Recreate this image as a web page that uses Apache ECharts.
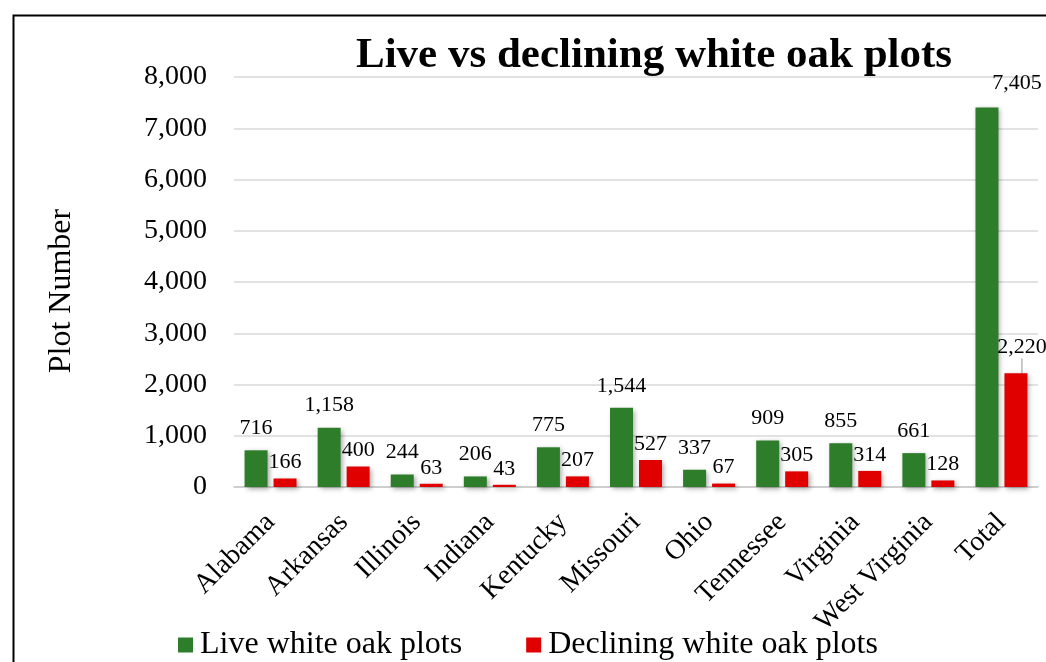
<!DOCTYPE html>
<html>
<head>
<meta charset="utf-8">
<script src="https://cdn.jsdelivr.net/npm/echarts@6/dist/echarts.min.js"></script>
<style>
  html, body { margin: 0; padding: 0; background: #fff; }
  #chart { width: 1046px; height: 662px; }
</style>
</head>
<body>
<div id="chart"></div>
<script>
// Plot counts per state, plus the overall total
const states = ['Alabama', 'Arkansas', 'Illinois', 'Indiana', 'Kentucky', 'Missouri',
                'Ohio', 'Tennessee', 'Virginia', 'West Virginia', 'Total'];
const livePlots = [716, 1158, 244, 206, 775, 1544, 337, 909, 855, 661, 7405];
const decliningPlots = [166, 400, 63, 43, 207, 527, 67, 305, 314, 128, 2220];
const seriesNames = ['Live white oak plots', 'Declining white oak plots'];
const yAxisTitle = 'Plot Number';

const serif = '"Liberation Serif", "Times New Roman", serif';
const fmt = v => v.toLocaleString('en-US');
const barShadow = {
  shadowColor: 'rgba(0,0,0,0.35)',
  shadowBlur: 5,
  shadowOffsetX: 2,
  shadowOffsetY: 2
};

const chart = echarts.init(document.getElementById('chart'));
const last = states.length - 1;

chart.setOption({
  animation: false,
  title: {
    text: 'Live vs declining white oak plots',
    left: 649,
    textAlign: 'center',
    top: 29,
    textStyle: { fontFamily: serif, fontSize: 43, fontWeight: 'bold', color: '#000' }
  },
  legend: {
    left: 173,
    top: 624,
    icon: 'rect',
    itemWidth: 15,
    itemHeight: 15,
    itemGap: 64,
    textStyle: { fontFamily: serif, fontSize: 32, color: '#000', padding: [0, 0, 0, 2] },
    data: seriesNames
  },
  graphic: [
    {
      // outer frame of the chart area
      type: 'rect',
      left: 11,
      top: 13,
      shape: { width: 1100, height: 700 },
      style: { fill: 'none', stroke: '#000', lineWidth: 2 },
      silent: true
    },
    {
      // vertical axis title
      type: 'text',
      x: 62,
      y: 291,
      rotation: Math.PI / 2,
      style: {
        text: yAxisTitle,
        fontFamily: serif,
        fontSize: 32,
        fill: '#000',
        align: 'center',
        verticalAlign: 'middle'
      },
      silent: true
    }
  ],
  grid: { left: 234, right: 8, top: 77, bottom: 175 },
  xAxis: {
    type: 'category',
    data: states,
    axisLine: { lineStyle: { color: '#c8c8c8', width: 1.5 } },
    axisTick: { show: false },
    axisLabel: {
      interval: 0,
      rotate: 45,
      margin: 31,
      fontFamily: serif,
      fontSize: 28,
      color: '#000'
    }
  },
  yAxis: {
    type: 'value',
    min: 0,
    max: 8000,
    interval: 1000,
    axisLine: { show: false },
    axisTick: { show: false },
    splitLine: { lineStyle: { color: '#d9d9d9', width: 1.5 } },
    axisLabel: {
      margin: 27,
      fontFamily: serif,
      fontSize: 28,
      color: '#000',
      formatter: v => fmt(v)
    }
  },
  series: [
    {
      name: seriesNames[0],
      type: 'bar',
      barWidth: 23,
      barGap: '26%',
      itemStyle: Object.assign({ color: '#2e7d2b' }, barShadow),
      label: {
        show: true,
        position: 'top',
        distance: 11,
        fontFamily: serif,
        fontSize: 22,
        color: '#000',
        formatter: p => fmt(p.value)
      },
      data: livePlots.map((v, i) => i === last
        ? { value: v, label: { offset: [30, -2] } }
        : v)
    },
    {
      name: seriesNames[1],
      type: 'bar',
      barWidth: 23,
      itemStyle: Object.assign({ color: '#e00000' }, barShadow),
      label: {
        show: true,
        position: 'top',
        distance: 5,
        offset: [9, 0],
        fontFamily: serif,
        fontSize: 22,
        color: '#000',
        formatter: p => fmt(p.value)
      },
      labelLine: { lineStyle: { color: '#a6a6a6', width: 1.2 } },
      labelLayout: p => p.dataIndex === last ? { dx: 6, dy: -10 } : {},
      data: decliningPlots.map((v, i) => i === last
        ? { value: v, labelLine: { show: true } }
        : v)
    }
  ]
});
</script>
</body>
</html>
